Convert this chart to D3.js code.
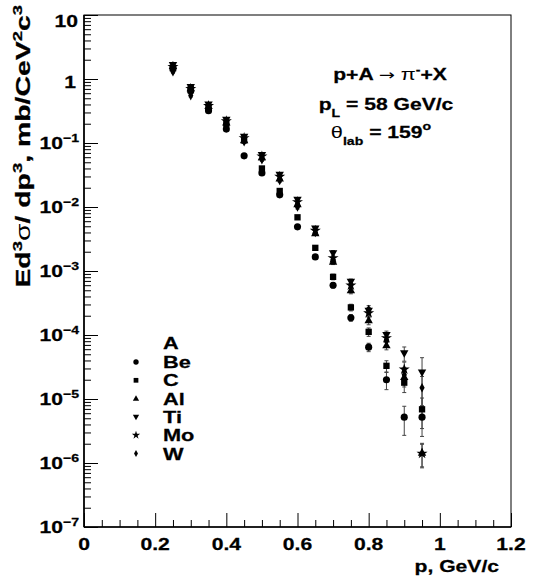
<!DOCTYPE html>
<html><head><meta charset="utf-8">
<script src="https://cdn.jsdelivr.net/npm/d3@7"></script>
<style>body{margin:0;background:#fff}svg{display:block}</style>
</head><body>
<svg id="c" width="540" height="585"></svg>
<script>
// ---- data ----
const momenta = [0.25,0.3,0.35,0.4,0.45,0.5,0.55,0.6,0.65,0.7,0.75,0.8,0.85,0.9,0.95];
const seriesNames = ["Be","C","Al","Ti","Mo","W"];
const valBe = [1.45,0.65,0.32,0.165,0.063,0.034,0.0155,0.0049,0.00166,0.0006,0.000186,0.0000646,0.00002,0.0000052,0.0000052];
const valC  = [1.5,0.7,0.35,0.2,0.11,0.04,0.0178,0.0069,0.0023,0.00081,0.00027,0.000112,0.000033,0.000018,0.0000069];
const valAl = [1.6,0.72,0.38,0.21,0.11,0.06,0.028,0.011,0.0039,0.0014,0.0005,0.00017,0.000069,0.000022,0.00000145];
const valTi = [1.65,0.75,0.4,0.23,0.125,0.065,0.032,0.013,0.0046,0.0019,0.00068,0.00024,0.0001,0.000052,0.000026];
const valMo = [1.55,0.7,0.38,0.22,0.12,0.062,0.03,0.012,0.0043,0.0016,0.0006,0.00022,0.00009,0.000029,0.0000014];
const valW  = [1.3,0.55,0.34,0.19,0.105,0.055,0.026,0.010,0.004,0.0015,0.00062,0.00025,0.00008,0.000024,0.000015];
const errBe = [0.05,0.05,0.05,0.05,0.06,0.06,0.06,0.07,0.08,0.1,0.12,0.15,0.3,0.48,0.5];
const errC  = [0.05,0.05,0.05,0.05,0.06,0.06,0.06,0.07,0.08,0.1,0.12,0.15,0.2,0.3,0.5];
const errAl = [0.05,0.05,0.05,0.05,0.06,0.06,0.06,0.07,0.08,0.1,0.12,0.15,0.15,0.3,0.4];
const errTi = [0.05,0.05,0.05,0.05,0.06,0.06,0.06,0.07,0.08,0.1,0.1,0.12,0.15,0.25,0.7];
const errMo = [0.05,0.05,0.05,0.05,0.06,0.06,0.06,0.07,0.08,0.1,0.12,0.15,0.15,0.3,0.4];
const errW  = [0.05,0.05,0.05,0.05,0.06,0.06,0.06,0.07,0.08,0.1,0.12,0.15,0.15,0.3,0.5];
const xTickLabels = ["0","0.2","0.4","0.6","0.8","1","1.2"];
const xMajor = [0,0.2,0.4,0.6,0.8,1.0,1.2];
const yExponents = [1,0,-1,-2,-3,-4,-5,-6,-7];

const values = [valBe,valC,valAl,valTi,valMo,valW];
const errors = [errBe,errC,errAl,errTi,errMo,errW];

// ---- layout ----
const L=84, R=511, T=15, B=527;
const SX = 1.28;
const FONT = "'Liberation Sans', Arial, Helvetica, sans-serif";
const svg = d3.select("#c");
const x = d3.scaleLinear().domain([0,1.2]).range([L,R]);
const y = d3.scaleLog().domain([1e-7,10]).range([B,T]);

// stretched text helper
function stext(px, py, anchor, size, parts, rot, sx) {
  const g = svg.append("g").attr("transform",
    `translate(${px},${py})${rot?" rotate(-90)":""} scale(${sx||SX},1)`);
  const t = g.append("text").attr("text-anchor", anchor)
    .attr("font-family", FONT).attr("font-weight","bold")
    .attr("font-size", size).attr("fill","#000")
    .attr("stroke","#000").attr("stroke-width",0.25);
  let cur = 0;
  parts.forEach(pt => {
    const s = t.append("tspan").text(pt.t);
    const sh = pt.sh || 0;
    s.attr("dy", (sh - cur));
    cur = sh;
    if (pt.fs) s.attr("font-size", pt.fs);
    if (pt.normal) s.attr("font-weight","normal").attr("stroke-width",0);
    if (pt.ff) s.attr("font-family", pt.ff);
  });
  return t;
}

// ---- axes ticks ----
const minorX = d3.range(0, 1.2001, 0.05).filter(v => Math.abs(v/0.2 - Math.round(v/0.2)) > 1e-6);
svg.append("g").attr("transform",`translate(0,${B})`)
  .call(d3.axisBottom(x).tickValues(xMajor).tickSize(-14).tickFormat(""))
  .call(g=>{g.select(".domain").remove(); g.selectAll("line").attr("stroke","#000");});
svg.append("g").attr("transform",`translate(0,${B})`)
  .call(d3.axisBottom(x).tickValues(minorX).tickSize(-7).tickFormat(""))
  .call(g=>{g.select(".domain").remove(); g.selectAll("line").attr("stroke","#000");});

const yMajor = yExponents.map(e => Math.pow(10,e));
const yMinor = [];
for (let e=-7; e<1; e++) for (let k=2;k<=9;k++) yMinor.push(k*Math.pow(10,e));
svg.append("g").attr("transform",`translate(${L},0)`)
  .call(d3.axisLeft(y).tickValues(yMajor).tickSize(-14).tickFormat(""))
  .call(g=>{g.select(".domain").remove(); g.selectAll("line").attr("stroke","#000");});
svg.append("g").attr("transform",`translate(${L},0)`)
  .call(d3.axisLeft(y).tickValues(yMinor).tickSize(-7).tickFormat(""))
  .call(g=>{g.select(".domain").remove(); g.selectAll("line").attr("stroke","#000");});

// frame
svg.append("rect").attr("x",L).attr("y",T).attr("width",R-L).attr("height",B-T)
  .attr("fill","none").attr("stroke","#000").attr("stroke-width",1);
svg.append("line").attr("x1",L).attr("x2",R).attr("y1",B).attr("y2",B).attr("stroke","#000").attr("stroke-width",1.6);
svg.append("line").attr("x1",L).attr("x2",L).attr("y1",T).attr("y2",B).attr("stroke","#000").attr("stroke-width",1.6);

// tick labels
xMajor.forEach((v,i) => stext(x(v), 550, "middle", 16.5, [{t:xTickLabels[i]}]));
yExponents.forEach(e => {
  const yy = y(Math.pow(10,e));
  if (e === 1) stext(78, yy+12, "end", 16.5, [{t:"10"}]);
  else if (e === 0) stext(76, yy+9, "end", 16.5, [{t:"1"}]);
  else stext(79, yy+6, "end", 16.5, [{t:"10"},{t:"\u2212"+(-e), sh:-7, fs:11}]);
});

// axis titles
stext(499, 572, "end", 16.5, [{t:"p, GeV/c"}]);
stext(30, 5, "end", 20, [
  {t:"Ed"},{t:"3",sh:-8,fs:13},{t:"\u03c3",normal:true},{t:"/ dp"},{t:"3",sh:-8,fs:13},
  {t:", mb/CeV"},{t:"2",sh:-8,fs:13},{t:"c"},{t:"3",sh:-8,fs:13}
], true, 1.42);

// annotation
stext(390, 80, "middle", 16.5, [{t:"p+A "},{t:"\u2192",normal:true,ff:"'DejaVu Sans'",fs:15},{t:" "},{t:"\u03c0",normal:true,fs:17},{t:"-",sh:-7,fs:11},{t:"+X"}]);
stext(386, 110, "middle", 16.5, [{t:"p"},{t:"L",sh:7,fs:11},{t:" = 58 GeV/c"}]);
stext(381, 138, "middle", 16.5, [{t:"\u03b8",normal:true,fs:17},{t:"lab",sh:7,fs:11},{t:" = 159"},{t:"o",sh:-8,fs:11}]);

// ---- markers ----
const tri = (s)=>`M0,${-4.6*s}L${4.2*s},${3*s}L${-4.2*s},${3*s}Z`;
const triD = (s)=>`M0,${4.6*s}L${4.2*s},${-3*s}L${-4.2*s},${-3*s}Z`;
const dia = (s)=>`M0,${-4.8*s}L${2.6*s},0L0,${4.8*s}L${-2.6*s},0Z`;
const markerPath = [
  s => d3.symbol(d3.symbolCircle, 40*s*s)(),
  s => d3.symbol(d3.symbolSquare, 40*s*s)(),
  tri, triD,
  s => d3.symbol(d3.symbolStar, 38*s*s)(),
  dia
];

const plot = svg.append("g");
// error bars
values.forEach((vals, si) => {
  vals.forEach((v, i) => {
    const e = errors[si][i];
    const xx = x(momenta[i]);
    const y1 = y(v*(1+e)), y2 = y(v*(1-e));
    plot.append("line").attr("x1",xx).attr("x2",xx).attr("y1",y1).attr("y2",y2)
      .attr("stroke","#444").attr("stroke-width",1);
    [y1,y2].forEach(yy => plot.append("line").attr("x1",xx-2).attr("x2",xx+2)
      .attr("y1",yy).attr("y2",yy).attr("stroke","#444").attr("stroke-width",1));
  });
});
values.forEach((vals, si) => {
  vals.forEach((v, i) => {
    plot.append("path").attr("d", markerPath[si](1))
      .attr("transform",`translate(${x(momenta[i])},${y(v)})`).attr("fill","#000");
  });
});

// ---- legend ----
stext(163, 349, "start", 17, [{t:"A"}]);
seriesNames.forEach((n, si) => {
  const yy = 362 + si*18.3;
  svg.append("path").attr("d", markerPath[si](0.75)).attr("transform",`translate(136,${yy})`).attr("fill","#000");
  stext(163, yy+6, "start", 17, [{t:n}]);
});
</script>
</body></html>
